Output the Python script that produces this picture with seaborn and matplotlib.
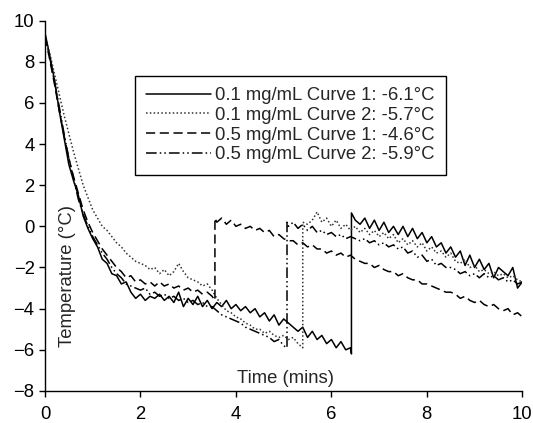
import numpy as np
import pandas as pd
import matplotlib
matplotlib.use("Agg")
import matplotlib.pyplot as plt
import seaborn as sns

# common time grid (minutes), one reading every 0.1 min
time_grid = np.round(np.arange(0, 10.05, 0.1), 1)

curve_names = [
    "0.1 mg/mL Curve 1: -6.1°C",
    "0.1 mg/mL Curve 2: -5.7°C",
    "0.5 mg/mL Curve 1: -4.6°C",
    "0.5 mg/mL Curve 2: -5.9°C",
]

# nucleation event: time, temperature just before, temperature just after
jump_c1 = (6.42, -6.2, 0.65)
jump_c2 = (5.40, -5.9, 0.2)
jump_c3 = (3.56, -3.6, 0.4)
jump_c4 = (5.07, -5.9, 0.2)

# 0.1 mg/mL curve 1 (solid)
before_c1 = [9.4, 8.3, 7.1, 5.6, 4.3, 3.0, 2.2, 1.5, 0.5, -0.1,
             -0.6, -1.0, -1.6, -1.8, -2.3, -2.4, -2.8, -2.7, -3.2, -3.5,
             -3.3, -3.6, -3.4, -3.5, -3.3, -3.6, -3.4, -3.7, -3.2, -3.9,
             -3.5, -3.8, -3.4, -3.9, -3.6, -4.0, -3.7, -3.9, -3.6, -4.0,
             -3.8, -4.1, -3.9, -4.2, -4.0, -4.4, -4.2, -4.6, -4.3, -4.8,
             -4.5, -4.7, -4.9, -5.1, -4.9, -5.4, -5.1, -5.5, -5.3, -5.7,
             -5.5, -5.9, -5.6, -6.0, -5.9]
after_c1 = [0.3, 0.1, 0.4, -0.1, 0.3, -0.2, 0.2, -0.3, 0.0, -0.4,
            0.0, -0.5, -0.1, -0.6, -0.3, -0.8, -0.5, -1.0, -0.8, -1.3,
            -1.0, -1.5, -1.2, -1.9, -1.4, -2.0, -1.6, -2.1, -1.8, -2.5,
            -2.0, -2.2, -2.4, -2.0, -3.0, -2.7]

# 0.1 mg/mL curve 2 (dotted)
before_c2 = [9.3, 8.4, 7.4, 6.4, 5.4, 4.5, 3.6, 2.8, 2.0, 1.4,
             0.8, 0.4, 0.0, -0.2, -0.5, -0.8, -1.0, -1.3, -1.5, -1.7,
             -1.8, -1.9, -2.1, -2.0, -2.3, -2.1, -2.4, -2.2, -1.8, -2.2,
             -2.5, -2.6, -2.7, -2.9, -2.8, -3.1, -3.5, -3.8, -4.1, -4.2,
             -4.4, -4.5, -4.7, -4.8, -5.0, -5.0, -5.2, -5.1, -5.3, -5.4,
             -5.3, -5.5, -5.4, -5.7]
after_c2 = [0.1, 0.3, 0.7, 0.2, 0.4, 0.0, 0.3, -0.1, 0.1, -0.2,
            0.0, -0.3, -0.1, -0.4, -0.2, -0.5, -0.3, -0.6, -0.4, -0.8,
            -0.6, -0.9, -0.7, -1.0, -0.8, -1.2, -1.0, -1.3, -1.2, -1.5,
            -1.3, -1.7, -1.8, -1.6, -2.0, -1.9, -2.2, -2.1, -2.3, -2.2,
            -2.4, -2.3, -2.5, -2.4, -2.6, -2.7]

# 0.5 mg/mL curve 1 (dashed)
before_c3 = [9.2, 8.1, 6.9, 5.6, 4.4, 3.3, 2.4, 1.6, 0.8, 0.2,
             -0.3, -0.7, -1.1, -1.4, -1.7, -2.0, -2.2, -2.5, -2.4, -2.7,
             -2.6, -2.8, -2.7, -2.9, -2.7, -2.9, -2.8, -3.0, -2.9, -3.1,
             -3.0, -3.2, -3.1, -3.3, -3.2, -3.4]
after_c3 = [0.2, 0.4, 0.1, 0.3, 0.0, 0.1, -0.1, 0.0, -0.2, -0.1,
            -0.3, -0.2, -0.5, -0.4, -0.6, -0.7, -0.7, -0.9, -0.8, -1.0,
            -0.9, -1.1, -1.1, -1.3, -1.2, -1.4, -1.3, -1.5, -1.4, -1.6,
            -1.7, -1.8, -1.8, -2.0, -1.9, -2.1, -2.2, -2.2, -2.4, -2.3,
            -2.5, -2.6, -2.6, -2.8, -2.8, -2.9, -3.0, -3.1, -3.2, -3.2,
            -3.3, -3.5, -3.4, -3.6, -3.7, -3.6, -3.8, -3.9, -3.8, -4.0,
            -4.1, -4.0, -4.3, -4.2, -4.4]

# 0.5 mg/mL curve 2 (dash-dot)
before_c4 = [9.3, 8.2, 7.0, 5.8, 4.5, 3.3, 2.3, 1.3, 0.6, 0.0,
             -0.5, -0.9, -1.3, -1.6, -2.0, -2.3, -2.5, -2.8, -2.9, -3.0,
             -3.1, -3.0, -3.3, -3.2, -3.4, -3.3, -3.5, -3.4, -3.6, -3.5,
             -3.7, -3.6, -3.8, -3.7, -3.9, -3.9, -4.1, -4.3, -4.4, -4.5,
             -4.6, -4.7, -4.9, -5.0, -5.1, -5.2, -5.3, -5.4, -5.6, -5.5,
             -5.8]
after_c4 = [0.0, 0.2, -0.1, 0.1, -0.2, 0.0, -0.3, -0.2, -0.4, -0.3,
            -0.5, -0.4, -0.6, -0.5, -0.6, -0.7, -0.6, -0.8, -0.7, -0.9,
            -0.8, -1.0, -0.9, -1.1, -1.0, -1.3, -1.2, -1.5, -1.4, -1.7,
            -1.6, -1.9, -1.8, -2.0, -2.0, -2.1, -2.3, -2.2, -2.4, -2.3,
            -2.5, -2.3, -2.5, -2.4, -2.6, -2.5, -2.7, -2.6, -2.8, -2.7]


def build_curve(name, before, jump, after):
    t_jump, low, high = jump
    t_before = time_grid[:len(before)]
    t_after = time_grid[len(time_grid) - len(after):]
    t = list(t_before) + [t_jump, t_jump] + list(t_after)
    temp = list(before) + [low, high] + list(after)
    return pd.DataFrame({"Time": t, "Temperature": temp, "Curve": name})


df = pd.concat([
    build_curve(curve_names[0], before_c1, jump_c1, after_c1),
    build_curve(curve_names[1], before_c2, jump_c2, after_c2),
    build_curve(curve_names[2], before_c3, jump_c3, after_c3),
    build_curve(curve_names[3], before_c4, jump_c4, after_c4),
], ignore_index=True)

sns.set_style("ticks")
plt.rcParams["font.family"] = ["Liberation Sans", "DejaVu Sans"]
fs = 13.3
plt.rcParams["font.size"] = fs

fig = plt.figure(figsize=(5.33, 4.23), dpi=100)
ax = fig.add_axes([0.0844, 0.0757, 0.8956, 0.8758])

estilos = {
    curve_names[0]: "",
    curve_names[1]: (1, 1.5),
    curve_names[2]: (6, 3),
    curve_names[3]: (7, 2, 1, 2, 1, 2),
}
sns.lineplot(data=df, x="Time", y="Temperature", hue="Curve", style="Curve",
             palette=["black", "#333333", "black", "black"],
             dashes=estilos, sort=False, estimator=None, linewidth=1.1, ax=ax)

ax.set_xlim(0, 10)
ax.set_ylim(-8, 10)
ax.set_xticks([0, 2, 4, 6, 8, 10])
ax.set_yticks([-8, -6, -4, -2, 0, 2, 4, 6, 8, 10])
ax.tick_params(axis="both", labelsize=fs, length=4, width=1, color="black", labelcolor="black")
ax.tick_params(axis="x", pad=7)
sns.despine(ax=ax)
for s in ["left", "bottom"]:
    ax.spines[s].set_color("black")
    ax.spines[s].set_linewidth(1)

ax.set_xlabel("")
ax.set_ylabel("")
ax.text(0.503, 0.035, "Time (mins)", transform=ax.transAxes,
        ha="center", va="center", fontsize=fs)
ax.text(0.047, 0.31, "Temperature (°C)", transform=ax.transAxes,
        ha="center", va="center", rotation=90, fontsize=fs)

leg = ax.legend(loc="upper left", bbox_to_anchor=(0.1886, 0.850), borderaxespad=0,
                fontsize=fs, frameon=True, fancybox=False, framealpha=1,
                edgecolor="black", handlelength=3.5, handletextpad=0.25,
                labelspacing=0.15, borderpad=0.6, title=None)
leg.get_frame().set_linewidth(1.0)

fig.savefig("out.png", dpi=100, facecolor="white")
